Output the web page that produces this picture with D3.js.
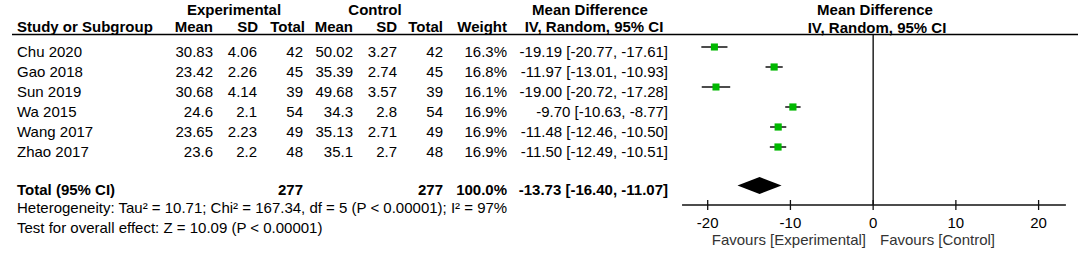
<!DOCTYPE html>
<html><head><meta charset="utf-8">
<script src="https://cdn.jsdelivr.net/npm/d3@7"></script>
<style>
html,body{margin:0;padding:0;background:#fff;}
svg text{font-family:"Liberation Sans",Arial,sans-serif;font-size:15px;fill:#000;}
</style></head>
<body><svg id="c" width="1084" height="253"></svg>
<script>
const studies = ["Chu 2020","Gao 2018","Sun 2019","Wa 2015","Wang 2017","Zhao 2017"];
const expMean = [30.83,23.42,30.68,24.6,23.65,23.6];
const expSD   = [4.06,2.26,4.14,2.1,2.23,2.2];
const expN    = [42,45,39,54,49,48];
const ctlMean = [50.02,35.39,49.68,34.3,35.13,35.1];
const ctlSD   = [3.27,2.74,3.57,2.8,2.71,2.7];
const ctlN    = [42,45,39,54,49,48];
const weight  = [16.3,16.8,16.1,16.9,16.9,16.9];
const md      = [-19.19,-11.97,-19.00,-9.70,-11.48,-11.50];
const ciLo    = [-20.77,-13.01,-20.72,-10.63,-12.46,-12.49];
const ciHi    = [-17.61,-10.93,-17.28,-8.77,-10.50,-10.51];
const totalExpN = 277, totalCtlN = 277, totalWeight = 100.0;
const totalMD = -13.73, totalLo = -16.40, totalHi = -11.07;
const ticks = [-20,-10,0,10,20];
const heterogeneity = "Heterogeneity: Tau\u00b2 = 10.71; Chi\u00b2 = 167.34, df = 5 (P < 0.00001); I\u00b2 = 97%";
const overall = "Test for overall effect: Z = 10.09 (P < 0.00001)";

const svg = d3.select("#c");
const x = d3.scaleLinear().domain([-20,20]).range([707.7,1038.6]);
const rowY = d3.scaleLinear().domain([0,1]).range([57,77]); // text baseline per row
const sz = d3.scaleSqrt().domain([0,17]).range([0,7.2]);

function t(g,xx,yy,txt,anchor,bold){
  const e=g.append("text").attr("x",xx).attr("y",yy).attr("text-anchor",anchor||"start").text(txt);
  if(bold) e.attr("font-weight","bold");
  return e;
}
// Header
const hdr = svg.append("g").attr("font-weight","bold");
t(hdr,234,15,"Experimental","middle");
t(hdr,375,15,"Control","middle");
t(hdr,590,15,"Mean Difference","middle");
t(hdr,875,15,"Mean Difference","middle");
t(hdr,17,32,"Study or Subgroup");
t(hdr,213,32,"Mean","end");
t(hdr,258,32,"SD","end");
t(hdr,305,32,"Total","end");
t(hdr,353,32,"Mean","end");
t(hdr,397,32,"SD","end");
t(hdr,443,32,"Total","end");
t(hdr,507,32,"Weight","end");
t(hdr,594,32,"IV, Random, 95% CI","middle");
t(hdr,877,33,"IV, Random, 95% CI","middle");
svg.append("line").attr("x1",12).attr("x2",1078).attr("y1",34.5).attr("y2",34.5)
  .attr("stroke","#000").attr("stroke-width",1.5);

// Rows
const rows = svg.append("g");
studies.forEach((s,i)=>{
  const y = rowY(i);
  t(rows,17,y,s);
  t(rows,213,y,String(expMean[i]),"end");
  t(rows,257,y,String(expSD[i]),"end");
  t(rows,303,y,String(expN[i]),"end");
  t(rows,353,y,String(ctlMean[i]),"end");
  t(rows,397,y,String(ctlSD[i]),"end");
  t(rows,443,y,String(ctlN[i]),"end");
  t(rows,507,y,weight[i].toFixed(1)+"%","end");
  t(rows,668,y,md[i].toFixed(2)+" ["+ciLo[i].toFixed(2)+", "+ciHi[i].toFixed(2)+"]","end");
});

// Total
const ty = 195;
t(rows,17,ty,"Total (95% CI)","start",true);
t(rows,303,ty,String(totalExpN),"end",true);
t(rows,443,ty,String(totalCtlN),"end",true);
t(rows,507,ty,totalWeight.toFixed(1)+"%","end",true);
t(rows,668,ty,totalMD.toFixed(2)+" ["+totalLo.toFixed(2)+", "+totalHi.toFixed(2)+"]","end",true);
t(rows,17,213,heterogeneity);
t(rows,17,233,overall);

// Plot
const axisY = 205;
const plot = svg.append("g");
plot.append("line").attr("x1",x(0)).attr("x2",x(0)).attr("y1",35).attr("y2",axisY)
  .attr("stroke","#000").attr("stroke-width",1.3);
studies.forEach((s,i)=>{
  const y = rowY(i)-10;
  plot.append("line").attr("x1",x(ciLo[i])).attr("x2",x(ciHi[i])).attr("y1",y).attr("y2",y)
    .attr("stroke","#111").attr("stroke-width",1.5);
  const w = sz(weight[i]);
  plot.append("rect").attr("x",x(md[i])-w/2).attr("y",y-w/2).attr("width",w).attr("height",w)
    .attr("fill","#00b800");
});
const dy = 185.5, dh = 8.5;
plot.append("path")
  .attr("d",`M${x(totalLo)},${dy} L${x(totalMD)},${dy-dh} L${x(totalHi)},${dy} L${x(totalMD)},${dy+dh} Z`)
  .attr("fill","#000");

// Axis
const ax = svg.append("g");
ax.append("line").attr("x1",x(-23.1)).attr("x2",x(23.3)).attr("y1",axisY).attr("y2",axisY)
  .attr("stroke","#111").attr("stroke-width",1.3);
ticks.forEach(v=>{
  ax.append("line").attr("x1",x(v)).attr("x2",x(v)).attr("y1",axisY-5).attr("y2",axisY+5)
    .attr("stroke","#111").attr("stroke-width",1.3);
  ax.append("text").attr("x",x(v)).attr("y",228).attr("text-anchor","middle").text(String(v));
});
ax.append("text").attr("x",866).attr("y",245).attr("text-anchor","end").style("fill","#333").text("Favours [Experimental]");
ax.append("text").attr("x",880).attr("y",245).attr("text-anchor","start").style("fill","#333").text("Favours [Control]");
</script></body></html>
